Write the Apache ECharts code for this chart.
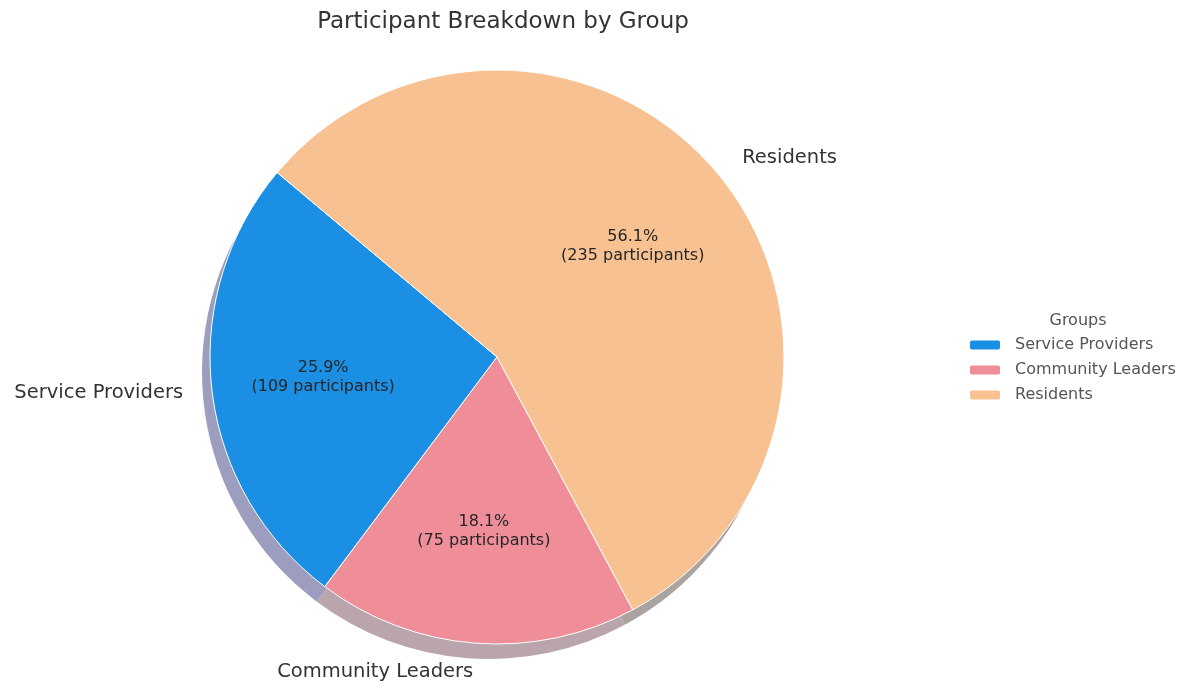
<!DOCTYPE html>
<html>
<head>
<meta charset="utf-8">
<title>Participant Breakdown by Group</title>
<script src="https://cdn.jsdelivr.net/npm/echarts@6/dist/echarts.min.js"></script>
<style>
  html, body { margin: 0; padding: 0; background: #fff; }
  #chart { width: 1186px; height: 688px; }
</style>
</head>
<body>
<div id="chart"></div>
<script>
// data
const groups = ['Service Providers', 'Community Leaders', 'Residents'];
const shares = [25.9, 18.1, 56.1];       // percent of participants
const participants = [109, 75, 235];
const colors = ['#1a8fe4', '#ef8d99', '#f8c192'];
const shadowColors = ['#9c9dbf', '#b9a5ab', '#aaa3a0'];

const font = 'DejaVu Sans, Verdana, sans-serif';
const cx = 497, cy = 357, r = 287;

const myChart = echarts.init(document.getElementById('chart'), null, { renderer: 'canvas' });

const mainData = groups.map((g, i) => ({
    name: g,
    value: shares[i],
    itemStyle: { color: colors[i] }
}));

const option = {
    animation: false,
    title: [
        {
            text: 'Participant Breakdown by Group',
            left: 498,
            top: 6,
            textAlign: 'center',
            textStyle: { fontFamily: font, fontSize: 23, fontWeight: 'normal', color: '#333' }
        },
        {
            text: 'Groups',
            left: 1073,
            top: 308,
            textAlign: 'center',
            textStyle: { fontFamily: font, fontSize: 16, fontWeight: 'normal', color: '#555' }
        }
    ],
    legend: {
        orient: 'vertical',
        left: 963,
        top: 332,
        itemWidth: 32,
        itemHeight: 11,
        itemGap: 9,
        icon: 'roundRect',
        data: groups,
        textStyle: { fontFamily: font, fontSize: 16, color: '#555', padding: [0, 0, 0, 9] }
    },
    series: [
        {
            // the wedges with the group names outside
            name: 'Groups',
            type: 'pie',
            z: 3,
            center: [cx, cy],
            radius: [0, r],
            startAngle: 140,
            clockwise: false,
            avoidLabelOverlap: false,
            silent: true,
            itemStyle: { borderColor: '#fff', borderWidth: 1 },
            label: {
                show: true,
                position: 'outside',
                distanceToLabelLine: 0,
                formatter: '{b}',
                fontFamily: font,
                fontSize: 19.5,
                color: '#333'
            },
            labelLine: { show: false, length: 29, length2: 0 },
            data: mainData
        },
        {
            // invisible ring that carries the percentage labels at 0.6 r
            name: 'pct',
            type: 'pie',
            z: 4,
            center: [cx, cy],
            radius: [57, r],
            startAngle: 140,
            clockwise: false,
            avoidLabelOverlap: false,
            silent: true,
            itemStyle: { color: 'rgba(0,0,0,0)' },
            label: {
                show: true,
                position: 'inside',
                formatter: p => shares[p.dataIndex].toFixed(1) + '%\n(' + participants[p.dataIndex] + ' participants)',
                fontFamily: font,
                fontSize: 16,
                lineHeight: 19,
                color: '#262626'
            },
            labelLine: { show: false },
            data: groups.map((g, i) => ({ name: g, value: shares[i] }))
        },
        {
            // drop shadow under the pie
            name: 'shadow',
            type: 'pie',
            z: 1,
            center: [cx - 8, cy + 15],
            radius: [0, r],
            startAngle: 140,
            clockwise: false,
            silent: true,
            label: { show: false },
            labelLine: { show: false },
            data: groups.map((g, i) => ({ name: g, value: shares[i], itemStyle: { color: shadowColors[i] } }))
        }
    ]
};

myChart.setOption(option);
</script>
</body>
</html>
